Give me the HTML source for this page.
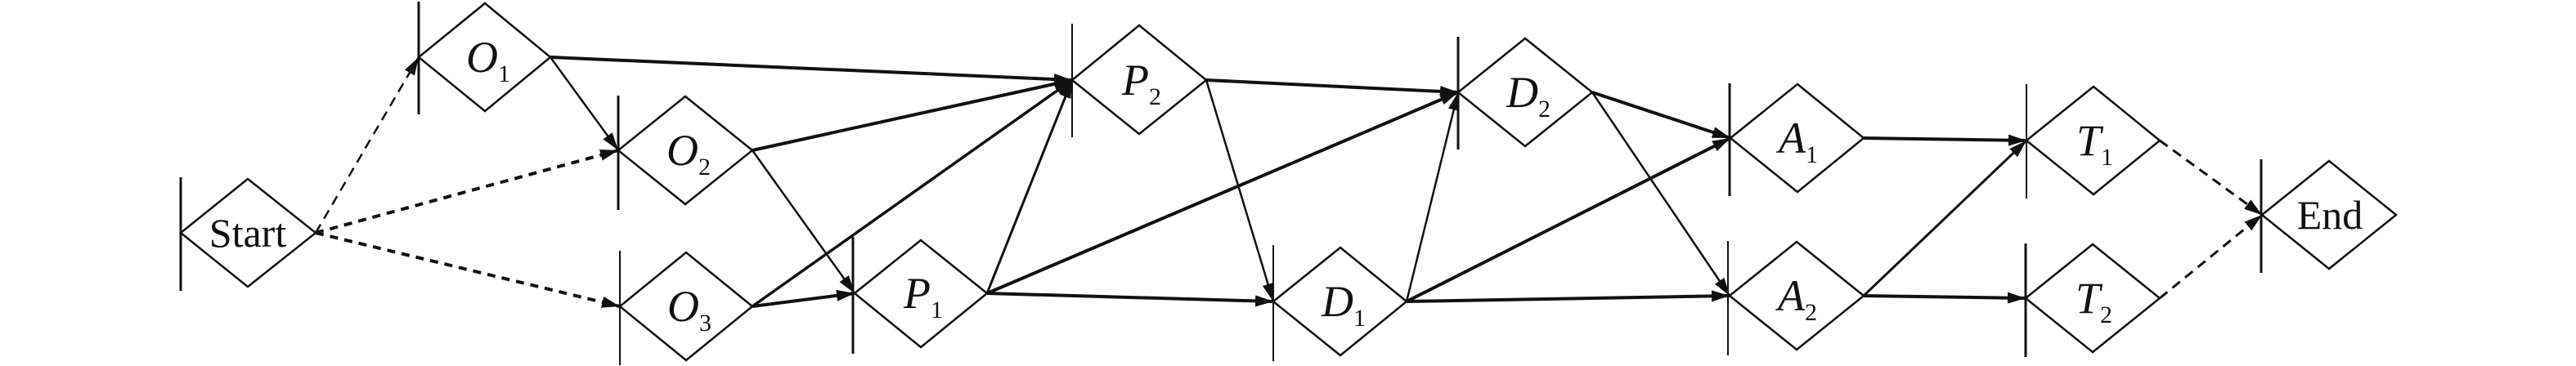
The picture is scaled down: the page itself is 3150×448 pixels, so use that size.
<!DOCTYPE html>
<html><head><meta charset="utf-8"><style>
html,body{margin:0;padding:0;background:#fff;}
svg{display:block;}
text{font-family:"Liberation Serif",serif;fill:#111;}
.l{font-style:italic;font-size:54px;}
.s{font-size:30px;font-style:normal;}
</style></head><body>
<svg width="3150" height="448" viewBox="0 0 3150 448" xmlns="http://www.w3.org/2000/svg">
<defs>
<marker id="a" markerUnits="userSpaceOnUse" markerWidth="24" markerHeight="16" refX="22" refY="8" orient="auto">
<path d="M0,1 L22,8 L0,15 Z" fill="#111"/></marker>
</defs>
<g stroke="#111" fill="none" stroke-width="2.5">
<!-- diamonds: left x, cy, w=163, h=132 -->
<path d="M221,285 L303,219 L386,285 L303,351 Z"/>
<path d="M512,70 L593,4 L673,70 L593,136 Z"/>
<path d="M756,184 L838,118 L920,184 L838,250 Z"/>
<path d="M758,375 L839,309 L920,375 L839,441 Z"/>
<path d="M1045,359 L1126,294 L1207,359 L1126,425 Z"/>
<path d="M1311,98 L1393,31 L1475,98 L1393,164 Z"/>
<path d="M1557,369 L1639,303 L1720,369 L1639,435 Z"/>
<path d="M1783,113 L1865,47 L1947,113 L1865,179 Z"/>
<path d="M2116,169 L2198,103 L2279,169 L2198,235 Z"/>
<path d="M2115,362 L2197,296 L2279,362 L2197,428 Z"/>
<path d="M2478,172 L2560,106 L2641,172 L2560,238 Z"/>
<path d="M2477,365 L2559,299 L2641,365 L2559,431 Z"/>
<path d="M2766,263 L2848,197 L2930,263 L2848,329 Z"/>
</g>
<g stroke="#111" stroke-width="3">
<line x1="221" y1="217" x2="221" y2="356"/>
<line x1="512" y1="2" x2="512" y2="140"/>
<line x1="756" y1="117" x2="756" y2="257"/>
<line x1="758" y1="307" x2="758" y2="447" stroke-width="2"/>
<line x1="1043" y1="290" x2="1043" y2="433"/>
<line x1="1311" y1="29" x2="1311" y2="168" stroke-width="2"/>
<line x1="1557" y1="300" x2="1557" y2="442" stroke-width="2"/>
<line x1="1783" y1="45" x2="1783" y2="183"/>
<line x1="2115" y1="102" x2="2115" y2="240"/>
<line x1="2113" y1="295" x2="2113" y2="435" stroke-width="2"/>
<line x1="2478" y1="103" x2="2478" y2="243" stroke-width="2"/>
<line x1="2477" y1="298" x2="2477" y2="437"/>
<line x1="2765" y1="195" x2="2765" y2="334"/>
</g>
<g stroke="#111" fill="none" marker-end="url(#a)">
<line x1="386" y1="285" x2="512" y2="70" stroke-width="2.5" stroke-dasharray="12,8"/>
<line x1="386" y1="285" x2="756" y2="184" stroke-width="4" stroke-dasharray="10,8"/>
<line x1="386" y1="285" x2="758" y2="375" stroke-width="4" stroke-dasharray="10,8"/>
<line x1="673" y1="70" x2="1311" y2="98" stroke-width="4"/>
<line x1="673" y1="70" x2="756" y2="184" stroke-width="2.5"/>
<line x1="920" y1="184" x2="1311" y2="98" stroke-width="4"/>
<line x1="920" y1="184" x2="1045" y2="359" stroke-width="2.5"/>
<line x1="920" y1="375" x2="1311" y2="98" stroke-width="3.5"/>
<line x1="920" y1="375" x2="1045" y2="359" stroke-width="4"/>
<line x1="1207" y1="359" x2="1311" y2="98" stroke-width="3"/>
<line x1="1207" y1="359" x2="1783" y2="113" stroke-width="4"/>
<line x1="1207" y1="359" x2="1557" y2="369" stroke-width="4"/>
<line x1="1475" y1="98" x2="1783" y2="113" stroke-width="4"/>
<line x1="1475" y1="98" x2="1557" y2="369" stroke-width="2.5"/>
<line x1="1720" y1="369" x2="1783" y2="113" stroke-width="2.5"/>
<line x1="1720" y1="369" x2="2116" y2="169" stroke-width="4"/>
<line x1="1720" y1="369" x2="2115" y2="362" stroke-width="4"/>
<line x1="1947" y1="113" x2="2116" y2="169" stroke-width="4"/>
<line x1="1947" y1="113" x2="2115" y2="362" stroke-width="2.5"/>
<line x1="2279" y1="169" x2="2478" y2="172" stroke-width="4"/>
<line x1="2279" y1="362" x2="2478" y2="172" stroke-width="3"/>
<line x1="2279" y1="362" x2="2477" y2="365" stroke-width="4"/>
<line x1="2641" y1="172" x2="2766" y2="263" stroke-width="3" stroke-dasharray="12,8"/>
<line x1="2641" y1="365" x2="2766" y2="263" stroke-width="3" stroke-dasharray="12,8"/>
</g>
<g>
<text x="303" y="302" text-anchor="middle" font-size="50">Start</text>
<text x="2849" y="280" text-anchor="middle" font-size="50">End</text>
<text class="l" x="570" y="88">O<tspan class="s" dy="12">1</tspan></text>
<text class="l" x="815" y="202">O<tspan class="s" dy="12">2</tspan></text>
<text class="l" x="816" y="393">O<tspan class="s" dy="12">3</tspan></text>
<text class="l" x="1105" y="377">P<tspan class="s" dy="12">1</tspan></text>
<text class="l" x="1372" y="116">P<tspan class="s" dy="12">2</tspan></text>
<text class="l" x="1616" y="387">D<tspan class="s" dy="12">1</tspan></text>
<text class="l" x="1842" y="131">D<tspan class="s" dy="12">2</tspan></text>
<text class="l" x="2175" y="187">A<tspan class="s" dy="12">1</tspan></text>
<text class="l" x="2174" y="380">A<tspan class="s" dy="12">2</tspan></text>
<text class="l" x="2539" y="190">T<tspan class="s" dy="12">1</tspan></text>
<text class="l" x="2538" y="383">T<tspan class="s" dy="12">2</tspan></text>
</g>
</svg>
</body></html>
